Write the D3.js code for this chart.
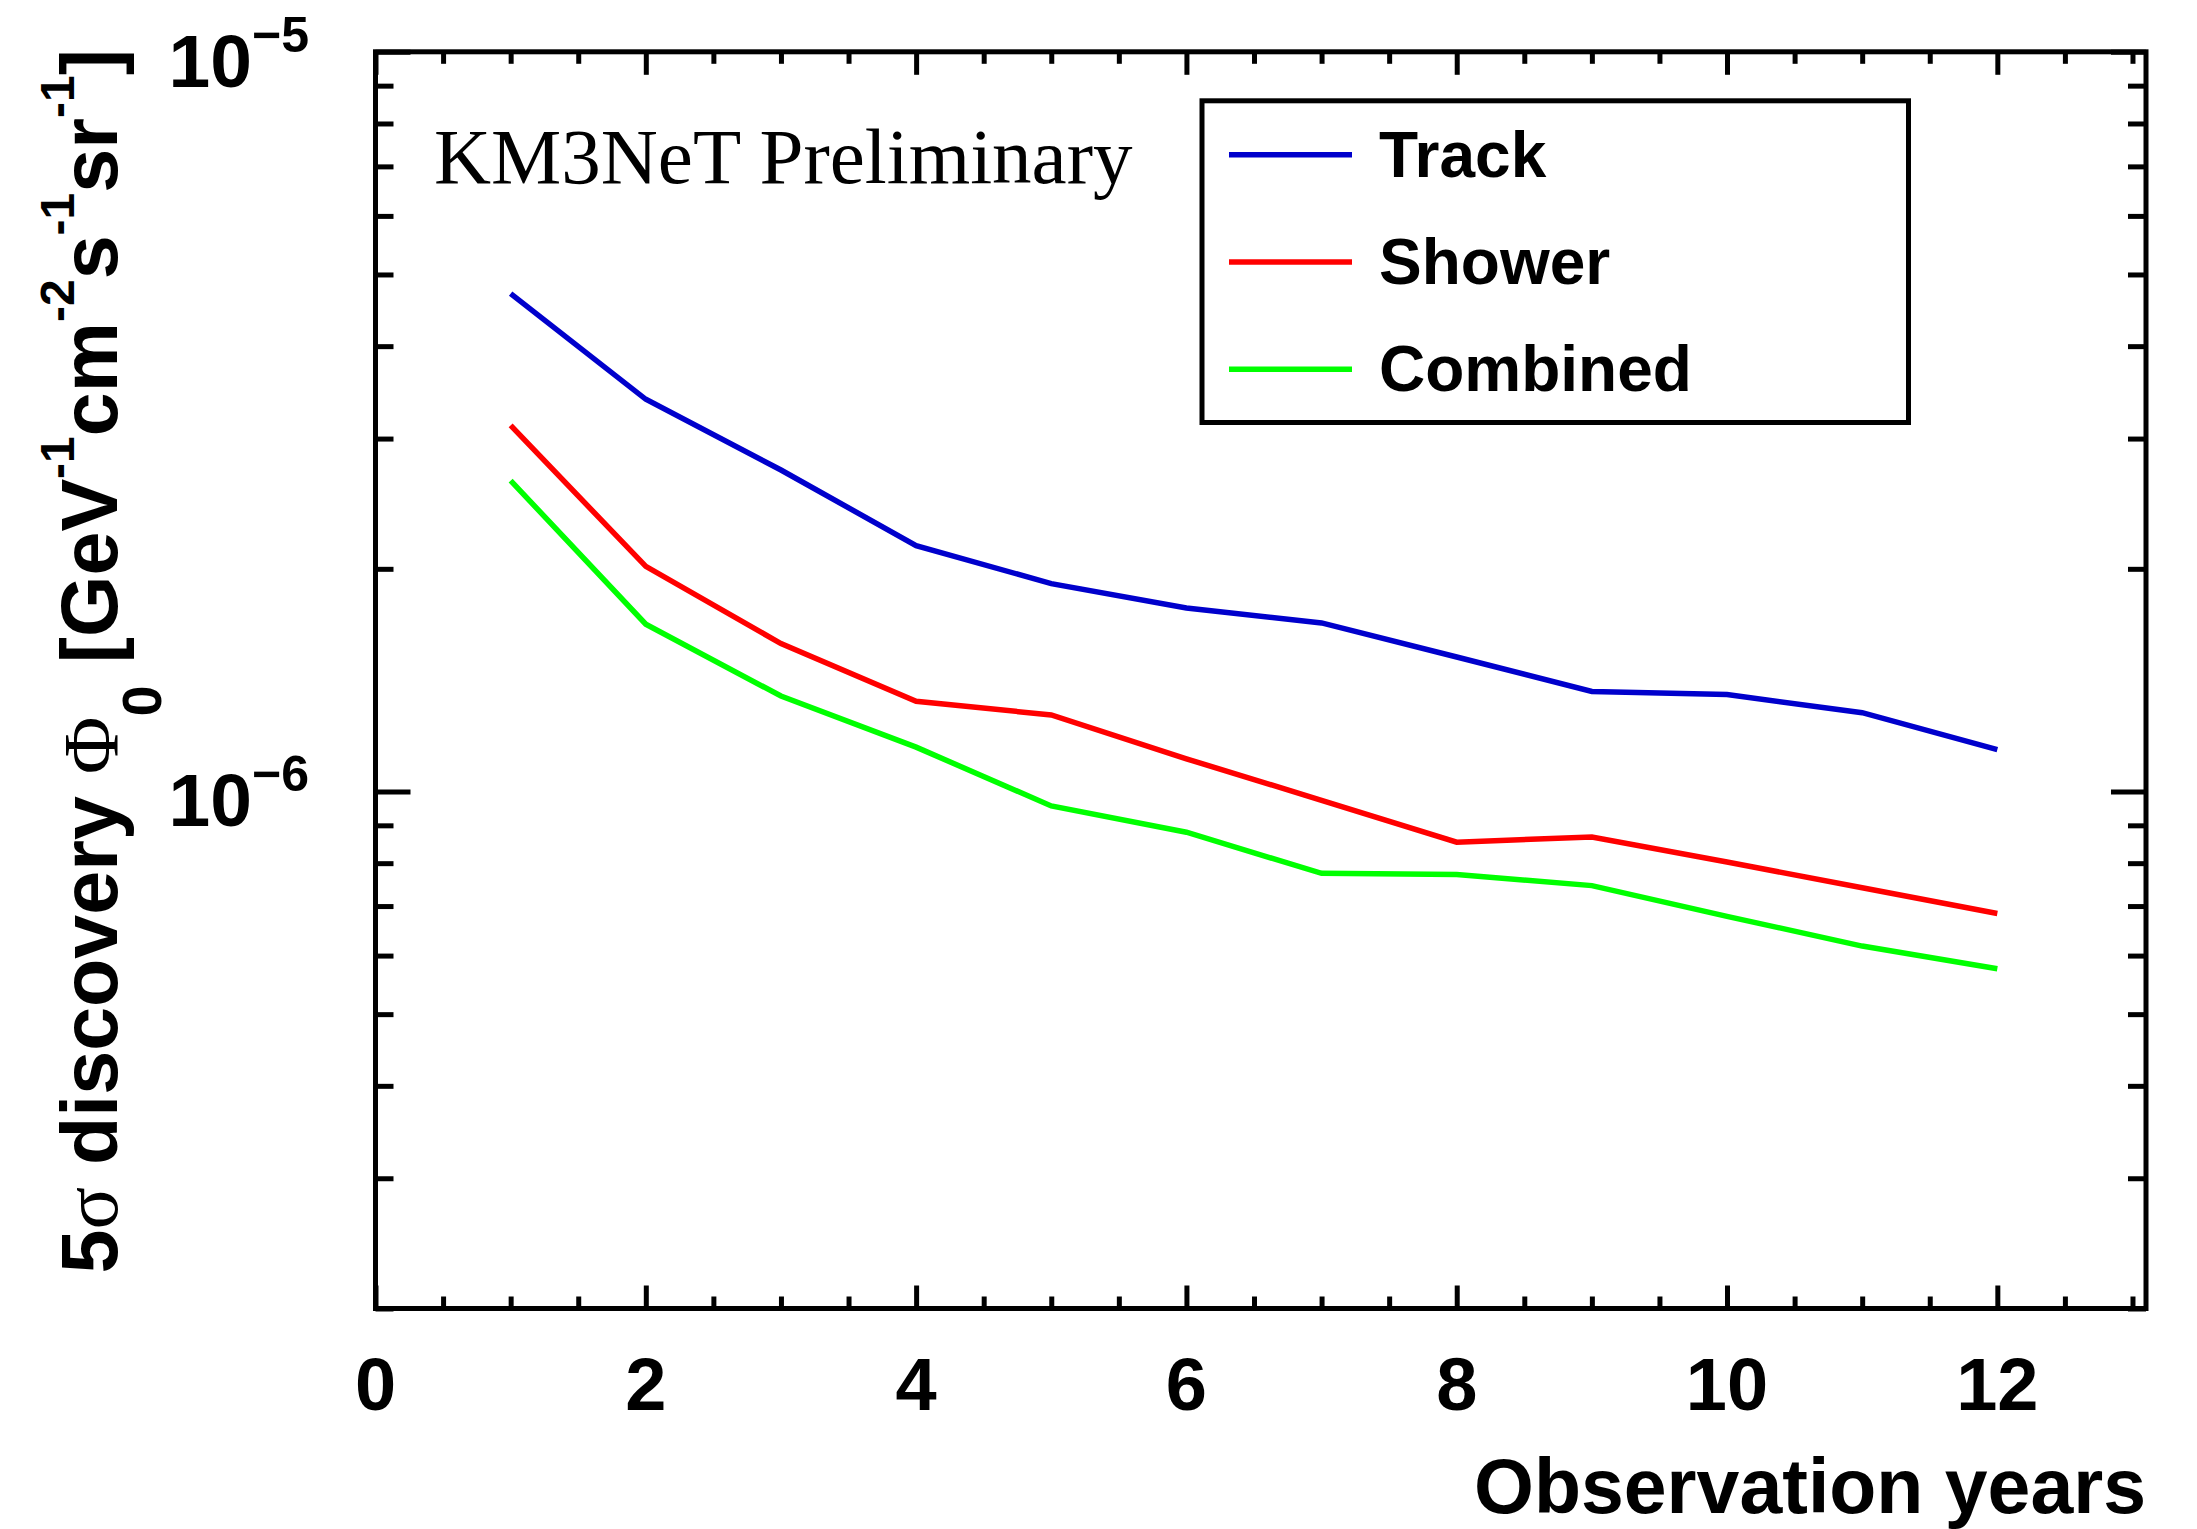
<!DOCTYPE html>
<html>
<head>
<meta charset="utf-8">
<script src="https://cdn.jsdelivr.net/npm/d3@7/dist/d3.min.js"></script>
<style>
  html, body { margin: 0; padding: 0; background: #fff; }
  svg { display: block; }
</style>
</head>
<body>
<script>
// Observation time in years and the 5 sigma discovery flux for each channel
const years = [1, 2, 3, 4, 5, 6, 7, 8, 9, 10, 11, 12];
const track    = [4.71e-6, 3.39e-6, 2.72e-6, 2.15e-6, 1.91e-6, 1.77e-6, 1.69e-6, 1.52e-6, 1.365e-6, 1.352e-6, 1.278e-6, 1.139e-6];
const shower   = [3.125e-6, 2.015e-6, 1.585e-6, 1.324e-6, 1.269e-6, 1.107e-6, 0.973e-6, 0.854e-6, 0.868e-6, 0.803e-6, 0.741e-6, 0.684e-6];
const combined = [2.632e-6, 1.683e-6, 1.346e-6, 1.148e-6, 0.956e-6, 0.881e-6, 0.775e-6, 0.772e-6, 0.746e-6, 0.678e-6, 0.618e-6, 0.576e-6];

const seriesNames  = ["Track", "Shower", "Combined"];
const seriesColors = ["#0000cc", "#ff0000", "#00ff00"];

// Axis ticks and labels
const xMajorTicks = [0, 2, 4, 6, 8, 10, 12];
const xTickLabels = ["0", "2", "4", "6", "8", "10", "12"];
const xMinorTicks = d3.range(0, 13.05, 0.5).filter(v => v % 2 !== 0);
const yMajorTicks = [1e-6, 1e-5];
const yTickExponents = ["\u22126", "\u22125"];
const yMinorTicks = [2e-7, 3e-7, 4e-7, 5e-7, 6e-7, 7e-7, 8e-7, 9e-7,
                     2e-6, 3e-6, 4e-6, 5e-6, 6e-6, 7e-6, 8e-6, 9e-6];

const W = 2197, H = 1529;
const frame = { left: 375.5, right: 2146, top: 51.8, bottom: 1308.5 };

const x = d3.scaleLinear().domain([0, 13.1]).range([frame.left, frame.right]);
const y = d3.scaleLog().domain([2e-7, 1e-5]).range([frame.bottom, frame.top]);

const svg = d3.select("body").append("svg")
  .attr("width", W).attr("height", H)
  .attr("viewBox", `0 0 ${W} ${H}`);

const sans = "'Liberation Sans', Arial, Helvetica, sans-serif";
const serif = "'Liberation Serif', 'Times New Roman', serif";

// Data curves
const line = d3.line().x(d => x(d[0])).y(d => y(d[1]));
[track, shower, combined].forEach((vals, i) => {
  svg.append("path")
    .datum(years.map((yr, j) => [yr, vals[j]]))
    .attr("fill", "none")
    .attr("stroke", seriesColors[i])
    .attr("stroke-width", 5.5)
    .attr("d", line);
});

// Tick marks on all four sides, pointing inward
function styleTicks(g) {
  g.select(".domain").remove();
  g.selectAll(".tick line").attr("stroke", "#000").attr("stroke-width", 5);
  g.selectAll(".tick text").remove();
}
const xAxes = [
  [d3.axisBottom, frame.bottom], [d3.axisTop, frame.top]
];
xAxes.forEach(([fn, pos]) => {
  svg.append("g").attr("transform", `translate(0,${pos})`)
    .call(fn(x).tickValues(xMajorTicks).tickSize(-23)).call(styleTicks);
  svg.append("g").attr("transform", `translate(0,${pos})`)
    .call(fn(x).tickValues(xMinorTicks).tickSize(-12)).call(styleTicks);
});
const yAxes = [
  [d3.axisLeft, frame.left], [d3.axisRight, frame.right]
];
yAxes.forEach(([fn, pos]) => {
  svg.append("g").attr("transform", `translate(${pos},0)`)
    .call(fn(y).tickValues(yMajorTicks).tickSize(-35)).call(styleTicks);
  svg.append("g").attr("transform", `translate(${pos},0)`)
    .call(fn(y).tickValues(yMinorTicks).tickSize(-18)).call(styleTicks);
});

// Frame
svg.append("rect")
  .attr("x", frame.left).attr("y", frame.top)
  .attr("width", frame.right - frame.left)
  .attr("height", frame.bottom - frame.top)
  .attr("fill", "none").attr("stroke", "#000").attr("stroke-width", 5);

// X tick labels
svg.append("g").selectAll("text")
  .data(xMajorTicks)
  .join("text")
  .attr("x", d => x(d))
  .attr("y", frame.bottom + 101)
  .attr("text-anchor", "middle")
  .attr("font-family", sans).attr("font-weight", "bold")
  .attr("font-size", 74)
  .text((d, i) => xTickLabels[i]);

// Y tick labels: 10 with a raised exponent
yMajorTicks.forEach((v, i) => {
  const t = svg.append("text")
    .attr("x", 309)
    .attr("y", y(v) + 35)
    .attr("text-anchor", "end")
    .attr("font-family", sans).attr("font-weight", "bold")
    .attr("font-size", 75);
  t.append("tspan").text("10");
  t.append("tspan").attr("dy", -35).attr("font-size", 50).text(yTickExponents[i]);
});

// X axis title
svg.append("text")
  .attr("x", frame.right).attr("y", 1513)
  .attr("text-anchor", "end")
  .attr("font-family", sans).attr("font-weight", "bold")
  .attr("font-size", 77)
  .text("Observation years");

// Y axis title with sub- and superscripts
const yt = svg.append("text")
  .attr("transform", `translate(117,49) rotate(-90)`)
  .attr("text-anchor", "end")
  .attr("font-family", sans).attr("font-weight", "bold")
  .attr("font-size", 79);
const SUP = 48, SUB = 56, UP = 43, DOWN = 44;
yt.append("tspan").text("5");
yt.append("tspan").attr("font-family", serif).attr("font-weight", "normal").text("\u03c3");
yt.append("tspan").text(" discovery ");
yt.append("tspan").attr("font-family", serif).attr("font-weight", "normal").text("\u03a6");
yt.append("tspan").attr("font-size", SUB).attr("dy", DOWN).text("0");
yt.append("tspan").attr("dy", -DOWN).text(" [GeV");
yt.append("tspan").attr("font-size", SUP).attr("dy", -UP).text("-1");
yt.append("tspan").attr("dy", UP).text("cm");
yt.append("tspan").attr("font-size", SUP).attr("dy", -UP).text("-2");
yt.append("tspan").attr("dy", UP).text("s");
yt.append("tspan").attr("font-size", SUP).attr("dy", -UP).text("-1");
yt.append("tspan").attr("dy", UP).text("sr");
yt.append("tspan").attr("font-size", SUP).attr("dy", -UP).text("-1");
yt.append("tspan").attr("dy", UP).text("]");

// Experiment label
svg.append("text")
  .attr("x", 434).attr("y", 183)
  .attr("font-family", serif)
  .attr("font-size", 79)
  .text("KM3NeT Preliminary");

// Legend
const legend = { left: 1202, right: 1908.5, top: 100.8, bottom: 422.5 };
svg.append("rect")
  .attr("x", legend.left).attr("y", legend.top)
  .attr("width", legend.right - legend.left)
  .attr("height", legend.bottom - legend.top)
  .attr("fill", "#fff").attr("stroke", "#000").attr("stroke-width", 5);
const rowY = d3.scalePoint().domain(seriesNames).range([154.7, 369.3]);
seriesNames.forEach((name, i) => {
  svg.append("line")
    .attr("x1", 1229).attr("x2", 1352)
    .attr("y1", rowY(name)).attr("y2", rowY(name))
    .attr("stroke", seriesColors[i]).attr("stroke-width", 5.5);
  svg.append("text")
    .attr("x", 1379).attr("y", rowY(name) + 22)
    .attr("font-family", sans).attr("font-weight", "bold")
    .attr("font-size", 64)
    .text(name);
});
</script>
</body>
</html>
